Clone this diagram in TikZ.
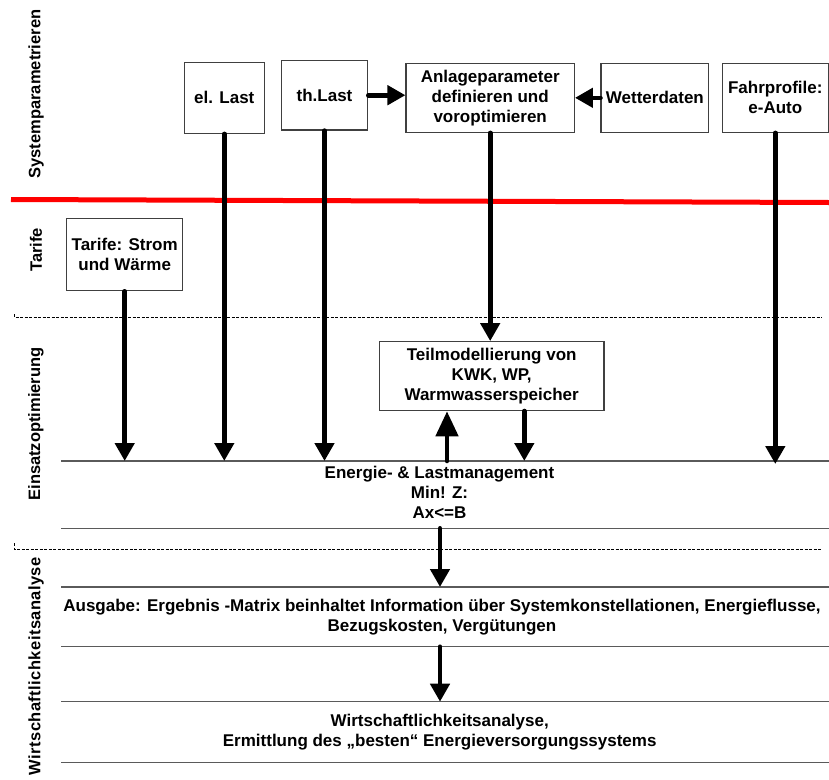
\documentclass[tikz,border=0pt]{standalone}
\usepackage{fontspec}
\setmainfont{Liberation Sans}
\newfontfamily\spacedfont[LetterSpace=2.6]{Liberation Sans}
\usetikzlibrary{arrows.meta}
\definecolor{boxgray}{HTML}{404040}
\definecolor{linegray}{HTML}{5A5A5A}
\tikzset{
  stdbox/.style={draw=boxgray, line width=1.2pt, align=center, inner sep=0pt,
    font=\fontsize{17}{20}\selectfont\bfseries},
  plaintext/.style={align=center, inner sep=0pt, font=\fontsize{17}{20}\selectfont\bfseries},
  lanelabel/.style={rotate=90, inner sep=0pt, font=\fontsize{16.5}{20}\selectfont\bfseries},
  flow/.style={line width=4.6pt, line cap=round, -{Triangle[length=18pt,width=19pt]}},
  flowbig/.style={line width=4.6pt, line cap=round, -{Triangle[length=25pt,width=22pt]}},
  hline/.style={draw=linegray, line width=1.5pt},
  dline/.style={dash pattern=on 3pt off 1.5pt, line width=0.8pt},
}
\begin{document}
\begin{tikzpicture}[x=1pt,y=-1pt]
\useasboundingbox (0,0) rectangle (829,779);

% lane labels
\node[lanelabel] (labA) at (36,94) {Systemparametrieren};
\node[lanelabel] (labB) at (36,250) {Tarife};
\node[lanelabel] (labC) at (36,424) {Einsatzoptimierung};
\node[lanelabel, anchor=east, font=\fontsize{16.5}{20}\spacedfont\bfseries] (labD) at (36,557) {Wirtschaftlichkeitsanalyse};

% separators
\draw[red, line width=5pt] (11,199.5) -- (829,202.5);
\draw[dline] (14,314) -- (14,317) -- (822,317);
\draw[dline] (14,543) -- (14,549) -- (822,549);

% level lines
\coordinate (L1a) at (61,461);   \coordinate (L1b) at (829,461);
\coordinate (L2a) at (61,528.3); \coordinate (L2b) at (829,528.3);
\coordinate (L3a) at (61,587);   \coordinate (L3b) at (829,587);
\coordinate (L4a) at (61,646.7); \coordinate (L4b) at (829,646.7);
\coordinate (L5a) at (61,701.7); \coordinate (L5b) at (829,701.7);
\coordinate (L6a) at (61,762.7); \coordinate (L6b) at (829,762.7);
\foreach \i in {1,...,6} \draw[hline] (L\i a) -- (L\i b);

% top boxes
\node[stdbox, minimum width=80pt, minimum height=71pt] (elLast) at (224.3,97.8) {el. Last};
\node[stdbox, minimum width=86.4pt, minimum height=69.7pt] (thLast) at (324.5,95.2) {th.Last};
\node[stdbox, minimum width=168.3pt, minimum height=69pt] (anlage) at (490.2,97.8) {Anlageparameter\\definieren und\\voroptimieren};
\node[stdbox, minimum width=107.7pt, minimum height=69pt] (wetter) at (654.9,97.8) {Wetterdaten};
\node[stdbox, minimum width=106pt, minimum height=69pt] (fahr) at (775.3,97.8) {Fahrprofile:\\e-Auto};
\node[stdbox, minimum width=116pt, minimum height=72.4pt] (tarife) at (124.7,254.5) {Tarife: Strom\\und Wärme};
\node[stdbox, minimum width=224.7pt, minimum height=69pt] (teil) at (491.7,376.2) {Teilmodellierung von\\KWK, WP,\\Warmwasserspeicher};

% text blocks
\node[plaintext] (elm) at (439.5,492) {Energie- \& Lastmanagement\\Min! Z:\\Ax<=B};
\node[plaintext] (ausg) at (442,616.7) {Ausgabe: Ergebnis -Matrix beinhaltet Information über Systemkonstellationen, Energieflusse,\\Bezugskosten, Vergütungen};
\node[plaintext] (wirt) at (439.7,732) {Wirtschaftlichkeitsanalyse,\\Ermittlung des „besten“ Energieversorgungssystems};

% horizontal arrows
\draw[flow] (thLast.east) -- (anlage.west |- thLast.east);
\draw[flow] (wetter.west) -- (anlage.east);

% vertical arrows
\draw[flow] (tarife.south) -- (tarife.south |- L1a);
\draw[flow] (elLast.south) -- (elLast.south |- L1a);
\draw[flow] (thLast.south) -- (thLast.south |- L1a);
\draw[flow] (fahr.south) -- ([yshift=-3pt]fahr.south |- L1a);
\draw[flow] (anlage.south) -- (anlage.south |- teil.north);
\coordinate (upA) at (447,461);
\draw[flowbig] (upA) -- (upA |- teil.south);
\coordinate (dnA) at (524.3,411);
\draw[flow] (dnA) -- (dnA |- L1a);
\coordinate (dnB) at (440,528.3);
\draw[flow] (dnB) -- (dnB |- L3a);
\coordinate (dnC) at (440,646.7);
\draw[flow] (dnC) -- (dnC |- L5a);
\end{tikzpicture}
\end{document}
